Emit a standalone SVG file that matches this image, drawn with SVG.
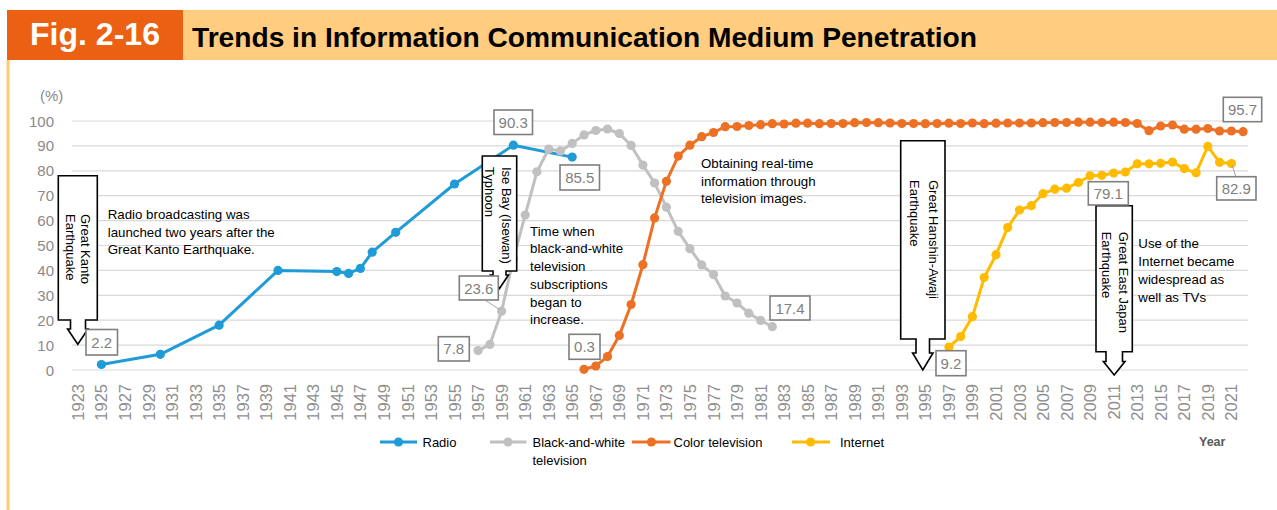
<svg xmlns="http://www.w3.org/2000/svg" width="1277" height="510" viewBox="0 0 1277 510">
<style>
text{font-family:"Liberation Sans",Arial,sans-serif}
.grid line{stroke:#d9d9d9;stroke-width:1.2}
.ytk{font-size:15px;fill:#8a8a8a;text-anchor:end}
.yr{font-size:16.5px;fill:#8f8f8f;text-anchor:end}
.ser{fill:none;stroke-width:3;stroke-linejoin:round}
.co{fill:#fff;stroke:#000;stroke-width:1.6}
.cot{font-size:13px;fill:#000}
.ann{font-size:13.3px;fill:#000}
.lb rect{fill:#fff;stroke:#7f7f7f;stroke-width:1.6}
.lb text{font-size:15px;fill:#808080;text-anchor:middle}
.lg{font-size:13px;fill:#000}
.ld{stroke:#a6a6a6;stroke-width:1}
</style>
<defs>
<marker id="mR" markerUnits="userSpaceOnUse" markerWidth="10" markerHeight="10" refX="5" refY="5" overflow="visible"><circle cx="5" cy="5" r="4.6" fill="#1f9bd7"/></marker>
<marker id="mB" markerUnits="userSpaceOnUse" markerWidth="10" markerHeight="10" refX="5" refY="5" overflow="visible"><circle cx="5" cy="5" r="4.6" fill="#c0c0c0"/></marker>
<marker id="mC" markerUnits="userSpaceOnUse" markerWidth="10" markerHeight="10" refX="5" refY="5" overflow="visible"><circle cx="5" cy="5" r="4.6" fill="#ed7125"/></marker>
<marker id="mI" markerUnits="userSpaceOnUse" markerWidth="10" markerHeight="10" refX="5" refY="5" overflow="visible"><circle cx="5" cy="5" r="4.6" fill="#ffbb00"/></marker>
</defs>
<rect width="1277" height="510" fill="#fff"/>
<g id="header">
<rect x="183" y="10" width="1094" height="50" fill="#ffcc80"/>
<rect x="7" y="10" width="176" height="50" fill="#ec6014"/>
<rect x="6.5" y="60" width="3" height="450" fill="#ffc978"/>
<text x="30" y="45" font-size="31" font-weight="bold" fill="#fff" textLength="130" lengthAdjust="spacingAndGlyphs">Fig. 2-16</text>
<text x="192" y="46.5" font-size="28" font-weight="bold" fill="#000" textLength="785" lengthAdjust="spacingAndGlyphs">Trends in Information Communication Medium Penetration</text>
</g>
<g id="axes">
<g class="grid">
<line x1="72" y1="370" x2="1248" y2="370"/><line x1="72" y1="345.1" x2="1248" y2="345.1"/><line x1="72" y1="320.2" x2="1248" y2="320.2"/><line x1="72" y1="295.3" x2="1248" y2="295.3"/><line x1="72" y1="270.4" x2="1248" y2="270.4"/><line x1="72" y1="245.5" x2="1248" y2="245.5"/><line x1="72" y1="220.6" x2="1248" y2="220.6"/><line x1="72" y1="195.7" x2="1248" y2="195.7"/><line x1="72" y1="170.8" x2="1248" y2="170.8"/><line x1="72" y1="145.9" x2="1248" y2="145.9"/><line x1="72" y1="121" x2="1248" y2="121"/>
</g>
<text x="40" y="101" font-size="15" fill="#8a8a8a">(%)</text>
<g class="ytk">
<text x="54" y="375.5">0</text><text x="54" y="350.6">10</text><text x="54" y="325.7">20</text><text x="54" y="300.8">30</text><text x="54" y="275.9">40</text><text x="54" y="251">50</text><text x="54" y="226.1">60</text><text x="54" y="201.2">70</text><text x="54" y="176.3">80</text><text x="54" y="151.4">90</text><text x="54" y="126.5">100</text>
</g>
<g class="yr" transform="rotate(-90)">
<text x="-384" y="83.9">1923</text><text x="-384" y="107.4">1925</text><text x="-384" y="131">1927</text><text x="-384" y="154.5">1929</text><text x="-384" y="178.1">1931</text><text x="-384" y="201.6">1933</text><text x="-384" y="225.1">1935</text><text x="-384" y="248.7">1937</text><text x="-384" y="272.2">1939</text><text x="-384" y="295.8">1941</text><text x="-384" y="319.3">1943</text><text x="-384" y="342.8">1945</text><text x="-384" y="366.4">1947</text><text x="-384" y="389.9">1949</text><text x="-384" y="413.5">1951</text><text x="-384" y="437">1953</text><text x="-384" y="460.5">1955</text><text x="-384" y="484.1">1957</text><text x="-384" y="507.6">1959</text><text x="-384" y="531.2">1961</text><text x="-384" y="554.7">1963</text><text x="-384" y="578.2">1965</text><text x="-384" y="601.8">1967</text><text x="-384" y="625.3">1969</text><text x="-384" y="648.9">1971</text><text x="-384" y="672.4">1973</text><text x="-384" y="695.9">1975</text><text x="-384" y="719.5">1977</text><text x="-384" y="743">1979</text><text x="-384" y="766.6">1981</text><text x="-384" y="790.1">1983</text><text x="-384" y="813.6">1985</text><text x="-384" y="837.2">1987</text><text x="-384" y="860.7">1989</text><text x="-384" y="884.3">1991</text><text x="-384" y="907.8">1993</text><text x="-384" y="931.3">1995</text><text x="-384" y="954.9">1997</text><text x="-384" y="978.4">1999</text><text x="-384" y="1002">2001</text><text x="-384" y="1025.5">2003</text><text x="-384" y="1049">2005</text><text x="-384" y="1072.6">2007</text><text x="-384" y="1096.1">2009</text><text x="-384" y="1119.7">2011</text><text x="-384" y="1143.2">2013</text><text x="-384" y="1166.7">2015</text><text x="-384" y="1190.3">2017</text><text x="-384" y="1213.8">2019</text><text x="-384" y="1237.4">2021</text>
</g>
</g>
<g id="series">
<polyline id="radio" class="ser" stroke="#1f9bd7" marker-start="url(#mR)" marker-mid="url(#mR)" marker-end="url(#mR)" points="101.4,364.5 160.3,354.3 219.1,325.2 278,270.4 336.8,271.6 348.6,273.4 360.4,268.4 372.2,252.2 395.7,232.3 454.5,184 513.4,145.2 572.2,157.1"/>
<polyline id="bwtv" class="ser" stroke="#c0c0c0" marker-start="url(#mB)" marker-mid="url(#mB)" marker-end="url(#mB)" points="478.1,350.6 489.9,344.4 501.6,311.2 513.4,258.7 525.2,215.1 536.9,171.8 548.7,149.1 560.5,150.9 572.2,143.4 584,134.9 595.8,130.5 607.5,129 619.3,133.5 631.1,145.4 642.9,165.1 654.6,183 666.4,207.2 678.2,231.3 689.9,248.7 701.7,264.9 713.5,274.6 725.2,296 737,303 748.8,313.2 760.6,320.4 772.3,326.7"/>
<polyline id="colortv" class="ser" stroke="#ed7125" marker-start="url(#mC)" marker-mid="url(#mC)" marker-end="url(#mC)" points="584,369.3 595.8,366 607.5,356.6 619.3,335.4 631.1,304.5 642.9,264.7 654.6,217.9 666.4,181.3 678.2,156.1 689.9,145.2 701.7,136.7 713.5,132.5 725.2,126.7 737,126.5 748.8,125.5 760.6,124.7 772.3,123.7 784.1,124 795.9,123.2 807.6,123.2 819.4,123.7 831.2,123.5 843,123.5 854.7,122.7 866.5,122.5 878.3,122.7 890,123 901.8,123.5 913.6,123.5 925.3,123.7 937.1,123.5 948.9,123.2 960.7,123.5 972.4,123 984.2,123.7 996,123.2 1007.7,123 1019.5,123 1031.3,123 1043,122.7 1054.8,122.5 1066.6,122.5 1078.4,122.2 1090.1,122.2 1101.9,122.5 1113.7,122.2 1125.4,122.5 1137.2,123.5 1149,130.7 1160.7,126 1172.5,125 1184.3,129.2 1196.1,129.2 1207.8,128.5 1219.6,131 1231.4,131 1243.1,131.7"/>
<polyline id="internet" class="ser" stroke="#ffbb00" marker-start="url(#mI)" marker-mid="url(#mI)" marker-end="url(#mI)" points="948.9,347.1 960.7,336.6 972.4,316.7 984.2,277.6 996,254.7 1007.7,227.6 1019.5,210 1031.3,205.7 1043,193.7 1054.8,189.2 1066.6,188.2 1078.4,182.5 1090.1,175.8 1101.9,175.3 1113.7,173 1125.4,172 1137.2,163.8 1149,163.8 1160.7,163.3 1172.5,162.1 1184.3,168.6 1196.1,172.8 1207.8,146.4 1219.6,162.3 1231.4,163.6"/>
</g>
<g id="connectors">
<line class="ld" x1="485" y1="300" x2="500" y2="310"/>
<line class="ld" x1="1232" y1="165" x2="1236" y2="177"/>
</g>
<g id="callout-kanto">
<path class="co" d="M58.3,175.7 H97.3 V320 H85.5 V329 H88 L77.8,344.3 L67.6,329 H70.5 V320 H58.3 Z"/>
<g class="cot" transform="rotate(90)"><text x="214" y="-81">Great Kanto</text><text x="214" y="-65.5">Earthquake</text></g>
</g>
<g id="callout-isebay">
<path class="co" d="M482.3,156 H516.7 V271 H506 V275 H508.5 L499.5,288.5 L490.5,275 H493 V271 H482.3 Z"/>
<g class="cot" transform="rotate(90)"><text x="167" y="-502">Ise Bay (Isewan)</text><text x="167" y="-485">Typhoon</text></g>
</g>
<g id="callout-hanshin">
<path class="co" d="M900.7,140.7 H945 V339 H929.5 V353 H933 L922.8,370 L912.6,353 H916 V339 H900.7 Z"/>
<g class="cot" transform="rotate(90)"><text x="180" y="-928.6">Great Hanshin-Awaji</text><text x="180" y="-910">Earthquake</text></g>
</g>
<g id="callout-eastjapan">
<path class="co" d="M1096,205.7 H1132.3 V351.7 H1122.5 V361.5 H1125 L1114.2,375 L1103.4,361.5 H1106 V351.7 H1096 Z"/>
<g class="cot" transform="rotate(90)"><text x="231.7" y="-1118.5">Great East Japan</text><text x="231.7" y="-1101.5">Earthquake</text></g>
</g>
<g id="label-2-2" class="lb"><rect x="86" y="329.5" width="31.5" height="25.5"/><text x="101.8" y="347.5">2.2</text></g>
<g id="label-90-3" class="lb"><rect x="494" y="110" width="38.5" height="24.5"/><text x="513.2" y="127.8">90.3</text></g>
<g id="label-85-5" class="lb"><rect x="560" y="165" width="39.5" height="25"/><text x="579.8" y="183">85.5</text></g>
<g id="label-23-6" class="lb"><rect x="459.3" y="276" width="39" height="24"/><text x="478.8" y="293.5">23.6</text></g>
<g id="label-7-8" class="lb"><rect x="438.3" y="336.7" width="31" height="24.3"/><text x="453.8" y="354.3">7.8</text></g>
<g id="label-0-3" class="lb"><rect x="569" y="334.3" width="31" height="25"/><text x="584.5" y="352.3">0.3</text></g>
<g id="label-17-4" class="lb"><rect x="770" y="296" width="40" height="24"/><text x="790" y="313.5">17.4</text></g>
<g id="label-9-2" class="lb"><rect x="936" y="350.7" width="30" height="25"/><text x="951" y="368.5">9.2</text></g>
<g id="label-79-1" class="lb"><rect x="1088.3" y="181.7" width="40" height="23.3"/><text x="1108.3" y="198.8">79.1</text></g>
<g id="label-95-7" class="lb"><rect x="1223.3" y="97.3" width="38.4" height="24.4"/><text x="1242.5" y="114.8">95.7</text></g>
<g id="label-82-9" class="lb"><rect x="1216.7" y="176.7" width="39.3" height="23.3"/><text x="1236.3" y="193.8">82.9</text></g>
<g id="note-radio" class="ann"><text x="107.7" y="219">Radio broadcasting was</text><text x="107.7" y="236.5">launched two years after the</text><text x="107.7" y="254">Great Kanto Earthquake.</text></g>
<g id="note-bw" class="ann"><text x="530" y="235.7">Time when</text><text x="530" y="253.3">black-and-white</text><text x="530" y="271">television</text><text x="530" y="288.7">subscriptions</text><text x="530" y="306.5">began to</text><text x="530" y="324.3">increase.</text></g>
<g id="note-color" class="ann"><text x="701" y="168.3">Obtaining real-time</text><text x="701" y="185.8">information through</text><text x="701" y="203.3">television images.</text></g>
<g id="note-internet" class="ann"><text x="1138.3" y="248.3">Use of the</text><text x="1138.3" y="266.3">Internet became</text><text x="1138.3" y="284.2">widespread as</text><text x="1138.3" y="301.8">well as TVs</text></g>
<g id="legend">
<line x1="380" y1="442" x2="417" y2="442" stroke="#1f9bd7" stroke-width="3"/><circle cx="398.5" cy="442" r="4.6" fill="#1f9bd7"/><text class="lg" x="422.5" y="446.5">Radio</text>
<line x1="490" y1="442" x2="526.5" y2="442" stroke="#c0c0c0" stroke-width="3"/><circle cx="508" cy="442" r="4.6" fill="#c0c0c0"/><text class="lg" x="532.5" y="446.5">Black-and-white</text><text class="lg" x="532.5" y="464.5">television</text>
<line x1="632" y1="442" x2="670.5" y2="442" stroke="#ed7125" stroke-width="3"/><circle cx="651.4" cy="442" r="4.6" fill="#ed7125"/><text class="lg" x="673.5" y="446.5">Color television</text>
<line x1="792" y1="442" x2="830" y2="442" stroke="#ffbb00" stroke-width="3"/><circle cx="810.6" cy="442" r="4.6" fill="#ffbb00"/><text class="lg" x="840" y="446.5">Internet</text>
<text x="1199" y="446" font-size="12.5" font-weight="bold" fill="#595959">Year</text>
</g>
</svg>
